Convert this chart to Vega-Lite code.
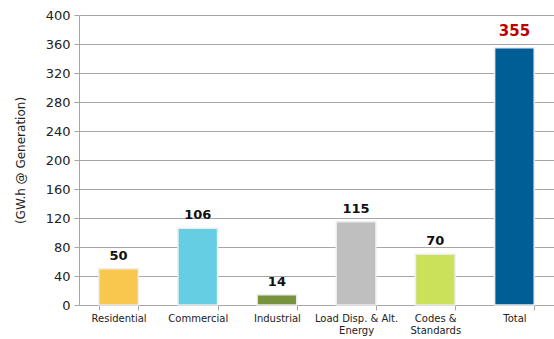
{
  "$schema": "https://vega.github.io/schema/vega-lite/v6.json",
  "width": 475,
  "height": 290,
  "autosize": {"type": "none"},
  "padding": {"left": 79, "top": 15, "right": 0, "bottom": 34},
  "background": "white",
  "data": {
    "values": [
      {"category": "Residential", "value": 50, "color": "#F9C74E", "total": false},
      {"category": "Commercial", "value": 106, "color": "#66CEE2", "total": false},
      {"category": "Industrial", "value": 14, "color": "#77933C", "total": false},
      {"category": "Load Disp. & Alt. Energy", "value": 115, "color": "#BFBFBF", "total": false},
      {"category": "Codes & Standards", "value": 70, "color": "#CBE15A", "total": false},
      {"category": "Total", "value": 355, "color": "#005E96", "total": true}
    ]
  },
  "config": {
    "view": {"stroke": null},
    "font": "DejaVu Sans"
  },
  "encoding": {
    "x": {
      "field": "category",
      "type": "nominal",
      "sort": null,
      "scale": {"paddingInner": 0.5, "paddingOuter": 0.25},
      "axis": {
        "title": null,
        "labelAngle": 0,
        "labelFontSize": 10,
        "labelColor": "#222222",
        "labelPadding": 3,
        "labelLineHeight": 12,
        "labelExpr": "datum.value == 'Load Disp. & Alt. Energy' ? ['Load Disp. & Alt.', 'Energy'] : datum.value == 'Codes & Standards' ? ['Codes &', 'Standards'] : datum.value",
        "domainColor": "#A6A6A6",
        "tickColor": "#A6A6A6",
        "tickBand": "extent",
        "tickSize": 5,
        "grid": false
      }
    },
    "y": {
      "field": "value",
      "type": "quantitative",
      "scale": {"domain": [0, 400]},
      "axis": {
        "title": "(GW.h @ Generation)",
        "titleFontSize": 12,
        "titleFontWeight": "normal",
        "titleColor": "#222222",
        "titlePadding": 18,
        "values": [0, 40, 80, 120, 160, 200, 240, 280, 320, 360, 400],
        "labelFontSize": 13,
        "labelColor": "#222222",
        "labelPadding": 4,
        "tickSize": 5,
        "tickColor": "#A6A6A6",
        "domainColor": "#A6A6A6",
        "gridColor": "#A6A6A6",
        "gridWidth": 1
      }
    }
  },
  "layer": [
    {
      "mark": {"type": "bar", "stroke": "#EDEDED", "strokeWidth": 1.5},
      "encoding": {
        "color": {"field": "color", "type": "nominal", "scale": null}
      }
    },
    {
      "transform": [{"filter": "!datum.total"}],
      "mark": {"type": "text", "baseline": "bottom", "dy": -6, "fontSize": 13, "fontWeight": "bold", "color": "#111111"},
      "encoding": {"text": {"field": "value", "type": "quantitative"}}
    },
    {
      "transform": [{"filter": "datum.total"}],
      "mark": {"type": "text", "baseline": "bottom", "dy": -9, "fontSize": 15, "fontWeight": "bold", "color": "#C00000"},
      "encoding": {"text": {"field": "value", "type": "quantitative"}}
    }
  ]
}
